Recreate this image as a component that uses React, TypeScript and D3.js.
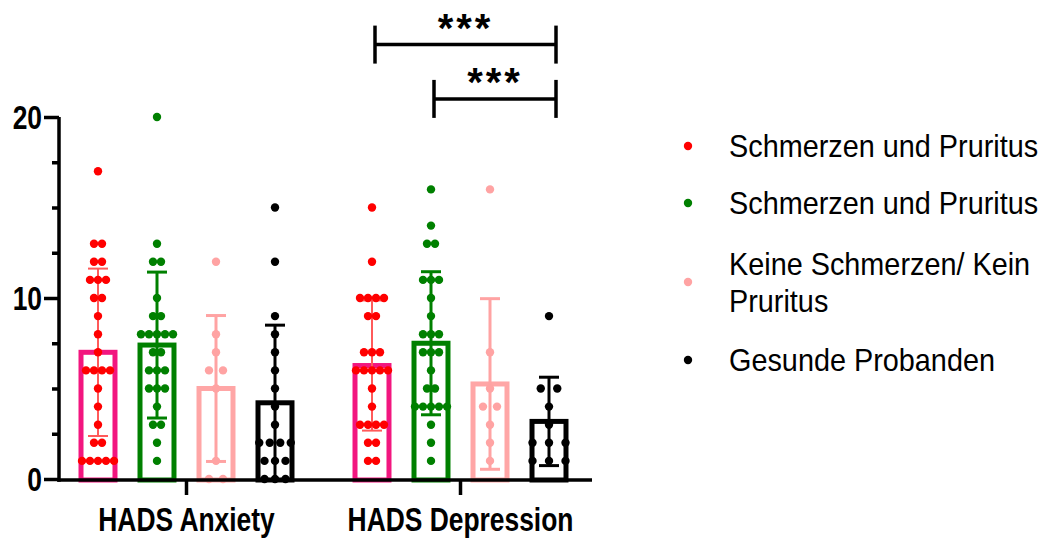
import React, { useEffect, useRef } from "react";
import * as d3 from "d3";

// categories, series, ticks
const groups = ["HADS Anxiety", "HADS Depression"];
const seriesKeys = ["red", "green", "pink", "black"];
const legendLabels = [
  ["Schmerzen und Pruritus"],
  ["Schmerzen und Pruritus"],
  ["Keine Schmerzen/ Kein", "Pruritus"],
  ["Gesunde Probanden"],
];
const yTicks = [0, 10, 20];
const yMinorTicks = [2.5, 5, 7.5, 12.5, 15, 17.5];

// individual scores
const anxietyRed = [17, 13, 13, 12, 12, 11, 11, 11, 10, 10, 9, 8, 7, 6, 6, 6, 6, 5, 4, 3, 2, 2, 1, 1, 1, 1, 1];
const anxietyGreen = [20, 13, 12, 12, 10, 9, 9, 8, 8, 8, 8, 8, 7, 7, 6, 6, 6, 5, 5, 5, 4, 3, 3, 2, 1];
const anxietyPink = [12, 8, 7, 6, 6, 5, 1, 0, 0];
const anxietyBlack = [15, 12, 9, 8, 7, 6, 5, 4, 3, 2, 2, 2, 2, 1, 1, 1, 0, 0, 0];
const depressionRed = [15, 12, 10, 10, 10, 10, 9, 9, 7, 7, 7, 6, 6, 6, 6, 6, 5, 4, 3, 3, 3, 3, 2, 2, 1, 1];
const depressionGreen = [16, 14, 13, 13, 11, 11, 11, 10, 9, 8, 8, 8, 7, 7, 7, 6, 5, 5, 4, 4, 4, 4, 4, 3, 2, 1];
const depressionPink = [16, 7, 5, 4, 4, 3, 2, 1];
const depressionBlack = [9, 5, 5, 4, 3, 2, 2, 2, 1, 1, 1];

const values: Record<string, number[][]> = {
  red: [anxietyRed, depressionRed],
  green: [anxietyGreen, depressionGreen],
  pink: [anxietyPink, depressionPink],
  black: [anxietyBlack, depressionBlack],
};

// significance brackets (HADS Depression)
const comparisons = [
  { from: "red", to: "black", label: "***", level: 24 },
  { from: "green", to: "black", label: "***", level: 21 },
];

const FONT = "'Liberation Sans', Arial, Helvetica, sans-serif";
const styles: Record<string, { dot: string; bar: string; err: string; errWidth: number }> = {
  red: { dot: "#FF0000", bar: "#F2167F", err: "#FF5A5A", errWidth: 2 },
  green: { dot: "#008000", bar: "#008000", err: "#008000", errWidth: 3 },
  pink: { dot: "#FFA3A3", bar: "#FFA6A6", err: "#FFA3A3", errWidth: 3 },
  black: { dot: "#000000", bar: "#000000", err: "#000000", errWidth: 3 },
};
const dotSpacing: Record<string, number[]> = {
  red: [8, 8],
  green: [8, 8],
  pink: [14, 14],
  black: [10.5, 16.5],
};

const AXIS_X = 59;
const BASE = 480;

function YAxis({ scale }) {
  const ref = useRef<SVGGElement>(null);
  useEffect(() => {
    const g = d3.select(ref.current);
    g.selectAll("*").remove();
    const major = g
      .append("g")
      .call(d3.axisLeft(scale).tickValues(yTicks).tickSize(15).tickSizeOuter(0).tickFormat(d3.format("d")));
    g.append("g").call(
      d3.axisLeft(scale).tickValues(yMinorTicks).tickSize(7).tickSizeOuter(0).tickFormat(() => "")
    );
    g.selectAll(".domain").remove();
    g.selectAll("line").attr("stroke", "#000").attr("stroke-width", 3.5);
    major
      .selectAll("text")
      .attr("x", null)
      .attr("dy", "0.36em")
      .attr("transform", "translate(-17,0) scale(0.8,1)")
      .attr("font-size", 33)
      .attr("font-weight", "bold")
      .attr("font-family", FONT)
      .attr("fill", "#000");
  }, [scale]);
  return <g ref={ref} transform={`translate(${AXIS_X},0)`} />;
}

function XAxis({ scale }) {
  const ref = useRef<SVGGElement>(null);
  useEffect(() => {
    const g = d3.select(ref.current);
    g.selectAll("*").remove();
    g.call(d3.axisBottom(scale).tickSize(15).tickSizeOuter(0));
    g.selectAll(".domain").remove();
    g.selectAll("line").attr("stroke", "#000").attr("stroke-width", 3.5);
    g.selectAll("text")
      .attr("y", 51)
      .attr("dy", null)
      .attr("transform", "scale(0.8,1)")
      .attr("font-size", 33)
      .attr("font-weight", "bold")
      .attr("font-family", FONT)
      .attr("fill", "#000");
  }, [scale]);
  return <g ref={ref} transform={`translate(0,${BASE})`} />;
}

export default function App() {
  const y = d3.scaleLinear().domain([0, 20]).range([479, 117]);
  const xGroup = d3.scaleBand().domain(groups).range([49.5, 597.5]).padding(0);
  const xSeries = d3
    .scaleBand()
    .domain(seriesKeys)
    .range([0, xGroup.bandwidth()])
    .paddingInner(0.424)
    .paddingOuter(0.534);
  const bw = xSeries.bandwidth();
  const center = (g: string, s: string) => (xGroup(g) ?? 0) + (xSeries(s) ?? 0) + bw / 2;

  return (
    <svg width={1041} height={540} style={{ position: "absolute", left: 0, top: 0, background: "#fff" }}>
      {/* bars + SD error bars */}
      {seriesKeys.map((s) =>
        groups.map((g, gi) => {
          const vals = values[s][gi];
          const m = d3.mean(vals) ?? 0;
          const sd = d3.deviation(vals) ?? 0;
          const cx = center(g, s);
          const st = styles[s];
          return (
            <g key={`bar-${s}-${g}`}>
              <rect
                x={cx - bw / 2}
                y={y(m)}
                width={bw}
                height={BASE - y(m)}
                fill="none"
                stroke={st.bar}
                strokeWidth={5}
              />
              <line x1={cx} x2={cx} y1={y(m + sd)} y2={y(Math.max(m - sd, 0))} stroke={st.err} strokeWidth={st.errWidth} />
              <line x1={cx - 10} x2={cx + 10} y1={y(m + sd)} y2={y(m + sd)} stroke={st.err} strokeWidth={st.errWidth} />
              {m - sd > 0 && (
                <line x1={cx - 10} x2={cx + 10} y1={y(m - sd)} y2={y(m - sd)} stroke={st.err} strokeWidth={st.errWidth} />
              )}
            </g>
          );
        })
      )}

      {/* individual points */}
      {seriesKeys.map((s) =>
        groups.map((g, gi) => {
          const rows = d3.groups(values[s][gi], (v) => v);
          const cx = center(g, s);
          const sp = dotSpacing[s][gi];
          return rows.map(([v, arr]) =>
            arr.map((_, i) => (
              <circle
                key={`dot-${s}-${g}-${v}-${i}`}
                cx={cx + (i - (arr.length - 1) / 2) * sp}
                cy={y(v)}
                r={4.2}
                fill={styles[s].dot}
              />
            ))
          );
        })
      )}

      {/* axes */}
      <line x1={AXIS_X} x2={AXIS_X} y1={y(20)} y2={BASE + 1.75} stroke="#000" strokeWidth={3.5} />
      <line x1={AXIS_X - 1.75} x2={592} y1={BASE} y2={BASE} stroke="#000" strokeWidth={3.5} />
      <YAxis scale={y} />
      <XAxis scale={xGroup} />

      {/* significance brackets */}
      {comparisons.map((c) => {
        const g = groups[1];
        const x1 = center(g, c.from) + 3;
        const x2 = center(g, c.to) + 7;
        const ly = y(c.level);
        return (
          <g key={`sig-${c.from}`} stroke="#000" strokeWidth={3.5}>
            <line x1={x1} x2={x2} y1={ly} y2={ly} />
            <line x1={x1} x2={x1} y1={ly - 19} y2={ly + 19} />
            <line x1={x2} x2={x2} y1={ly - 19} y2={ly + 19} />
            <text
              x={(x1 + x2) / 2}
              y={ly - 3}
              textAnchor="middle"
              fontFamily={FONT}
              fontWeight="bold"
              fontSize={40}
              letterSpacing={3}
              stroke="none"
              fill="#000"
            >
              {c.label}
            </text>
          </g>
        );
      })}

      {/* legend */}
      {seriesKeys.map((s, i) => {
        const lines = legendLabels[i];
        const rowY = [146, 203, 282, 360][i];
        const first = rowY + 11 - ((lines.length - 1) * 37) / 2;
        return (
          <g key={`legend-${s}`}>
            <circle cx={688} cy={rowY} r={4.2} fill={styles[s].dot} />
            {lines.map((t, li) => (
              <text
                key={t}
                transform={`translate(729,${first + li * 37}) scale(0.93,1)`}
                fontFamily={FONT}
                fontSize={31}
                fill="#000"
              >
                {t}
              </text>
            ))}
          </g>
        );
      })}
    </svg>
  );
}
